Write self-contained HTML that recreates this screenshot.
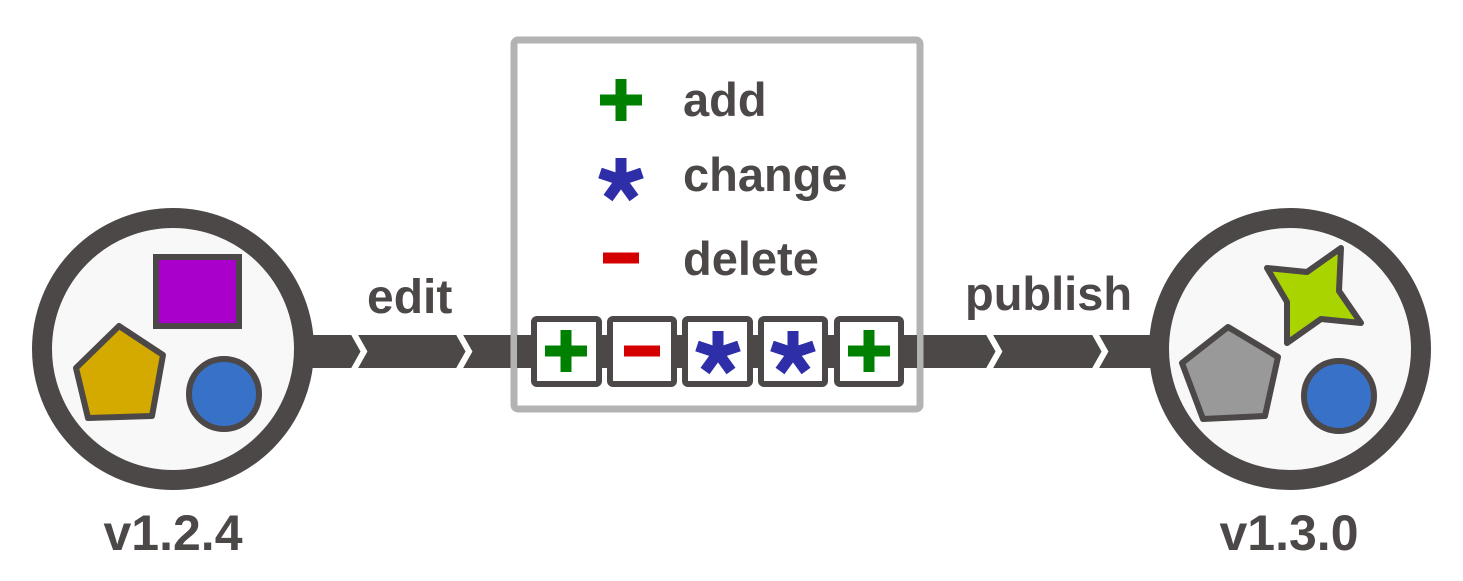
<!DOCTYPE html>
<html><head><style>
html,body{margin:0;padding:0;background:#fff;}
svg{display:block}
text{font-family:"Liberation Sans",sans-serif;font-weight:bold;fill:#4d4848;}
</style></head><body>
<svg width="1463" height="581" viewBox="0 0 1463 581" xmlns="http://www.w3.org/2000/svg">
<defs>
<g id="plus"><rect x="-21" y="-5.5" width="42" height="11" fill="#008000"/><rect x="-5.5" y="-21" width="11" height="42" fill="#008000"/></g>
<g id="star" stroke="#2e2ea8" stroke-width="11" stroke-linecap="butt">
<line x1="0" y1="0" x2="0" y2="-22"/><line x1="0" y1="0" x2="21" y2="-7"/><line x1="0" y1="0" x2="-21" y2="-7"/><line x1="0" y1="0" x2="13" y2="18"/><line x1="0" y1="0" x2="-13" y2="18"/></g>
<g id="minus"><rect x="-18" y="-5.5" width="36" height="11" fill="#d40000"/></g>
</defs>
<rect x="300" y="335" width="870" height="33" fill="#4d4848"/>
<g fill="none" stroke="#fff" stroke-width="6">
<polyline points="353,332 364,351.5 353,371"/>
<polyline points="458,332 469,351.5 458,371"/>
<polyline points="988,332 999,351.5 988,371"/>
<polyline points="1094,332 1105,351.5 1094,371"/>
</g>
<rect x="514" y="40" width="406" height="369" rx="4" fill="none" stroke="#b3b3b3" stroke-width="7"/>
<rect x="517" y="335" width="400" height="33" fill="#4d4848"/>
<g fill="#fff" stroke="#4d4848" stroke-width="6">
<rect x="534" y="319" width="65" height="65" rx="3"/>
<rect x="610" y="319" width="64" height="65" rx="3"/>
<rect x="685" y="319" width="65" height="65" rx="3"/>
<rect x="761" y="319" width="64" height="65" rx="3"/>
<rect x="837" y="319" width="64" height="65" rx="3"/>
</g>
<use href="#plus" transform="translate(566,351)"/>
<use href="#minus" transform="translate(642,351)"/>
<use href="#star" transform="translate(718,353)"/>
<use href="#star" transform="translate(793,353)"/>
<use href="#plus" transform="translate(869,351)"/>
<use href="#plus" transform="translate(621,100)"/>
<use href="#star" transform="translate(621,180)"/>
<use href="#minus" transform="translate(621,258)"/>
<text x="683" y="116" font-size="47">add</text>
<text x="683" y="191" font-size="47">change</text>
<text x="683" y="275" font-size="47">delete</text>
<text x="367" y="313" font-size="48">edit</text>
<text x="965" y="310" font-size="47">publish</text>
<circle cx="173" cy="349" r="131" fill="#f8f8f8" stroke="#4d4848" stroke-width="20"/>
<rect x="156" y="257" width="83" height="69" fill="#aa00cc" stroke="#4d4848" stroke-width="6"/>
<polygon points="119,326 163,355 152,416 88,418 76,368" fill="#d4aa00" stroke="#4d4848" stroke-width="6" stroke-linejoin="round"/>
<circle cx="224" cy="394" r="35" fill="#3771c8" stroke="#4d4848" stroke-width="6"/>
<circle cx="1290" cy="349" r="131" fill="#f8f8f8" stroke="#4d4848" stroke-width="20"/>
<polygon points="1267,268 1307,272 1341,248 1339,291 1361,323 1321,319 1287,343 1287,302" fill="#aad400" stroke="#4d4848" stroke-width="6" stroke-linejoin="round"/>
<polygon points="1228,327 1278,357 1265,416 1203,419 1182,363" fill="#999" stroke="#4d4848" stroke-width="6" stroke-linejoin="round"/>
<circle cx="1339" cy="396" r="35" fill="#3771c8" stroke="#4d4848" stroke-width="6"/>
<text x="173" y="550" font-size="50" text-anchor="middle">v1.2.4</text>
<text x="1289" y="550" font-size="50" text-anchor="middle">v1.3.0</text>
</svg>
</body></html>
